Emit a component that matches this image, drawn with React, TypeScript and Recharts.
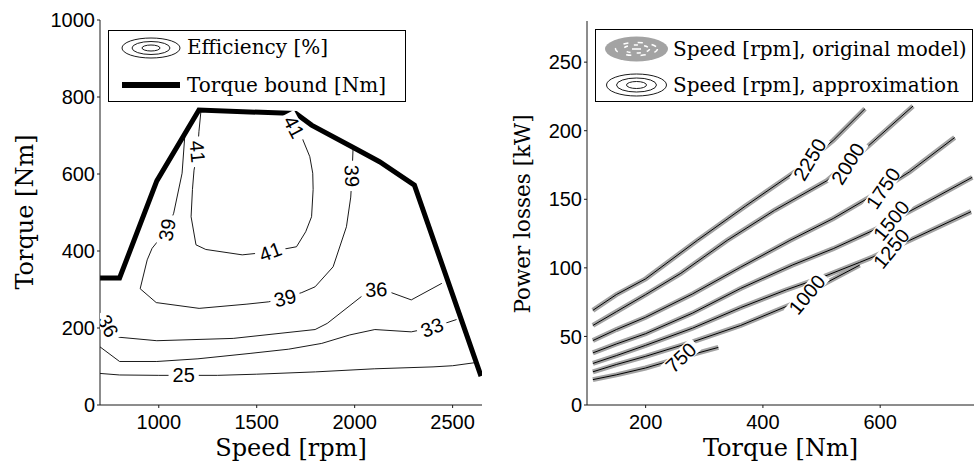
import React from 'react';
import { ComposedChart, Line, Scatter, XAxis, YAxis } from 'recharts';

// ---------- left panel: efficiency map, speed [rpm] vs torque [Nm]
const speedTicks = [1000, 1500, 2000, 2500];
const torqueTicks = [0, 200, 400, 600, 800, 1000];

const eff25 = [[700, 82], [800, 78], [1000, 77], [1127, 77], [1300, 77], [1500, 80], [1800, 86], [2100, 94], [2400, 99], [2500, 102], [2615, 110]];
const eff33 = [[700, 151], [800, 113], [990, 113], [1200, 120], [1466, 134], [1663, 145], [1832, 160], [1975, 182], [2103, 196], [2289, 190], [2395, 201], [2520, 222]];
const eff36 = [[700, 234], [740, 205], [776, 177], [990, 167], [1380, 173], [1798, 196], [1860, 212], [2060, 292], [2110, 300], [2170, 295], [2289, 273], [2445, 316]];
const eff39 = [[1133, 700], [1119, 602], [1076, 498], [1042, 455], [966, 407], [941, 377], [905, 302], [987, 266], [1206, 251], [1450, 262], [1561, 268], [1645, 278], [1730, 292], [1798, 307], [1890, 359], [1958, 463], [1980, 540], [1986, 595], [1992, 668]];
const eff41 = [[1215, 762], [1205, 710], [1198, 658], [1180, 610], [1172, 560], [1165, 489], [1190, 416], [1240, 404], [1426, 390], [1502, 394], [1570, 398], [1640, 405], [1703, 411], [1750, 450], [1780, 489], [1788, 560], [1786, 602], [1771, 645], [1729, 697], [1690, 722], [1662, 757]];
const torqueBound = [[700, 330], [800, 330], [990, 582], [1205, 766], [1700, 757], [1780, 727], [2000, 667], [2127, 632], [2305, 571], [2645, 75]];

const effContours = [eff25, eff33, eff36, eff39, eff41];
const effLabels = [
  { x: 1127, y: 77, text: '25' },
  { x: 2395, y: 201, text: '33' },
  { x: 2110, y: 300, text: '36' },
  { x: 740, y: 205, text: '36' },
  { x: 1645, y: 278, text: '39' },
  { x: 1042, y: 455, text: '39' },
  { x: 1986, y: 595, text: '39' },
  { x: 1198, y: 658, text: '41' },
  { x: 1570, y: 398, text: '41' },
  { x: 1690, y: 722, text: '41' },
];
const effLabelAngles = [0, -22, -3, 62, -14, -80, 88, 85, -20, 62];

// ---------- right panel: power losses [kW] vs torque [Nm], one line per speed
const lossTorqueTicks = [200, 400, 600];
const lossTicks = [0, 50, 100, 150, 200, 250];

const s750 = [[110, 18.5], [150, 22], [200, 27], [260, 34.5], [324, 42]];
const s1000 = [[110, 24.2], [150, 29.5], [200, 35.5], [280, 46], [362, 58], [452, 74], [503, 88], [565, 102]];
const s1250 = [[110, 30.3], [150, 36], [200, 43.5], [280, 56], [362, 71], [440, 84], [503, 93.5], [565, 104], [588, 108], [650, 120], [755, 141]];
const s1500 = [[110, 38], [150, 44.5], [200, 52], [280, 67], [362, 85], [450, 102], [520, 114], [594, 128.5], [680, 148], [757, 166]];
const s1750 = [[110, 47], [150, 55], [200, 64], [280, 81], [362, 100.5], [446, 120], [520, 136], [582, 151.5], [650, 170], [727, 195]];
const s2000 = [[110, 58], [150, 68], [200, 80.5], [260, 96], [339, 120], [420, 142], [509, 163.5], [580, 189], [656, 218]];
const s2250 = [[110, 69], [150, 80.5], [200, 92], [288, 120], [370, 145], [458, 171], [520, 193], [574, 216]];

const speedLines = [s750, s1000, s1250, s1500, s1750, s2000, s2250];
const speedLabels = [
  { x: 260, y: 34.5, text: '750' },
  { x: 475, y: 80.5, text: '1000' },
  { x: 619, y: 114, text: '1250' },
  { x: 619, y: 134.5, text: '1500' },
  { x: 605, y: 158, text: '1750' },
  { x: 545, y: 176, text: '2000' },
  { x: 480, y: 179, text: '2250' },
];
const speedLabelAngles = [-43, -50, -51, -51, -56, -58, -59];

const pts = (a: number[][]) => a.map(([x, y]) => ({ x, y }));

const SANS = '"Liberation Sans", Arial, sans-serif';
const SERIF = '"DejaVu Serif", serif';
const AX = '#1a1a1a';
const GRAY = '#a3a3a3';
const tickStyle = { fill: '#000', fontSize: 20, fontFamily: SANS };

const ContourLabel = (props: any) => {
  const { cx, cy, payload } = props;
  if (cx == null || cy == null) return null;
  const w = payload.text.length * 11.1 + 8;
  return (
    <g transform={`translate(${cx},${cy}) rotate(${payload.angle})`}>
      <rect x={-w / 2} y={-8} width={w} height={16} fill="#fff" />
      <text x={0} y={7} textAnchor="middle" fontSize={20} fontFamily={SANS} fill="#000">
        {payload.text}
      </text>
    </g>
  );
};

const yTitle = (text: string, x: number, y: number, size: number) => () => (
  <text x={x} y={y} transform={`rotate(-90 ${x} ${y})`} textAnchor="middle" fontSize={size} fontFamily={SERIF} fill="#000">
    {text}
  </text>
);

function EfficiencyMap() {
  const labels = effLabels.map((l, i) => ({ ...l, angle: effLabelAngles[i] }));
  return (
    <ComposedChart width={490} height={465} margin={{ top: 20, right: 8, bottom: 8, left: 40 }}>
      <XAxis
        type="number" dataKey="x" domain={[700, 2650]} ticks={speedTicks} allowDataOverflow
        height={52} tickSize={3} tickMargin={7} tick={tickStyle}
        axisLine={{ stroke: AX }} tickLine={{ stroke: AX }}
        label={{ value: 'Speed [rpm]', position: 'insideBottom', offset: 1, fontSize: 24, fontFamily: SERIF, fill: '#000' }}
      />
      <YAxis
        type="number" dataKey="y" domain={[0, 1000]} ticks={torqueTicks} allowDataOverflow
        width={60} tickSize={3} tick={tickStyle}
        axisLine={{ stroke: AX }} tickLine={{ stroke: AX }}
        label={{ content: yTitle('Torque [Nm]', 33, 212, 24) }}
      />
      {effContours.map((c, i) => (
        <Line key={i} data={pts(c)} dataKey="y" type="linear" stroke="#000" strokeWidth={0.9} dot={false} isAnimationActive={false} />
      ))}
      <Scatter data={labels} dataKey="y" shape={(p: any) => <ContourLabel {...p} />} isAnimationActive={false} />
      <Line data={pts(torqueBound)} dataKey="y" type="linear" stroke="#000" strokeWidth={5} dot={false} isAnimationActive={false} />
    </ComposedChart>
  );
}

function PowerLosses() {
  const labels = speedLabels.map((l, i) => ({ ...l, angle: speedLabelAngles[i] }));
  return (
    <ComposedChart width={484} height={465} margin={{ top: 21, right: 0, bottom: 8, left: 40 }}>
      <XAxis
        type="number" dataKey="x" domain={[100, 760]} ticks={lossTorqueTicks} allowDataOverflow
        height={52} tickSize={3} tickMargin={7} tick={tickStyle}
        axisLine={{ stroke: AX }} tickLine={{ stroke: AX }}
        label={{ value: 'Torque [Nm]', position: 'insideBottom', offset: 1, fontSize: 24, fontFamily: SERIF, fill: '#000' }}
      />
      <YAxis
        type="number" dataKey="y" domain={[0, 280]} ticks={lossTicks} allowDataOverflow
        width={57} tickSize={3} tick={tickStyle}
        axisLine={{ stroke: AX }} tickLine={{ stroke: AX }}
        label={{ content: yTitle('Power losses [kW]', 40, 214, 21.5) }}
      />
      {speedLines.map((s, i) => (
        <Line key={'o' + i} data={pts(s)} dataKey="y" type="linear" stroke={GRAY} strokeWidth={5} dot={false} isAnimationActive={false} />
      ))}
      {speedLines.map((s, i) => (
        <Line key={'a' + i} data={pts(s)} dataKey="y" type="linear" stroke="#000" strokeWidth={1} dot={false} isAnimationActive={false} />
      ))}
      <Scatter data={labels} dataKey="y" shape={(p: any) => <ContourLabel {...p} />} isAnimationActive={false} />
    </ComposedChart>
  );
}

function Legends() {
  const t = { fontSize: 20, fontFamily: SERIF, fill: '#000' };
  return (
    <svg width={974} height={465} style={{ position: 'absolute', left: 0, top: 0, pointerEvents: 'none' }}>
      {/* left legend */}
      <rect x={108.5} y={30.5} width={297} height={71} fill="#fff" stroke="#000" />
      <g fill="none" stroke="#000" strokeWidth={0.9}>
        <ellipse cx={151} cy={48} rx={29} ry={10} />
        <ellipse cx={151} cy={48} rx={19} ry={6.5} />
        <ellipse cx={151} cy={48} rx={9} ry={3} />
      </g>
      <text x={187} y={54} {...t}>Efficiency [%]</text>
      <line x1={122} x2={180} y1={85} y2={85} stroke="#000" strokeWidth={6} />
      <text x={187} y={92} {...t}>Torque bound [Nm]</text>

      {/* right legend */}
      <rect x={595.5} y={29.5} width={377} height={72} fill="#fff" stroke="#000" />
      <ellipse cx={636.5} cy={49} rx={31.5} ry={12.5} fill={GRAY} />
      <g fill="none" stroke="#fff" strokeWidth={1.5}>
        <ellipse cx={636.5} cy={49} rx={21} ry={6.5} strokeDasharray="5 9" />
        <ellipse cx={636.5} cy={49} rx={13} ry={4} strokeDasharray="4 6" />
        <line x1={632} x2={641} y1={49} y2={49} />
      </g>
      <text x={673} y={56} {...t}>Speed [rpm], original model)</text>
      <g fill="none" stroke="#000" strokeWidth={0.9}>
        <ellipse cx={636.5} cy={85} rx={30} ry={11} />
        <ellipse cx={636.5} cy={85} rx={20} ry={7} />
        <ellipse cx={636.5} cy={85} rx={10} ry={3.5} />
      </g>
      <text x={673} y={92} {...t}>Speed [rpm], approximation</text>
    </svg>
  );
}

export default function App() {
  return (
    <div style={{ position: 'absolute', left: 0, top: 0, width: 974, height: 465, overflow: 'hidden', background: '#fff' }}>
      <div style={{ position: 'absolute', left: 0, top: 0 }}>
        <EfficiencyMap />
      </div>
      <div style={{ position: 'absolute', left: 490, top: 0 }}>
        <PowerLosses />
      </div>
      <Legends />
    </div>
  );
}
